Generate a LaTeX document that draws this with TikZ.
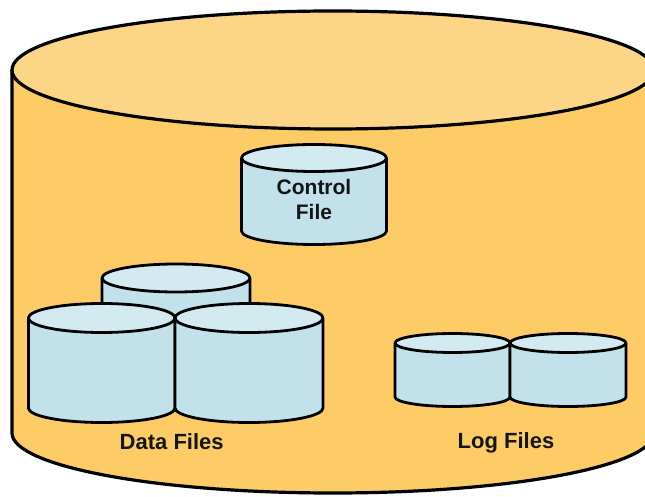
\documentclass[tikz,border=0pt]{standalone}
\usepackage{fontspec}
\setmainfont{Liberation Sans}
\definecolor{bigtop}{HTML}{FCD686}
\definecolor{bigside}{HTML}{FECC66}
\definecolor{drumbody}{HTML}{C3E1EA}
\definecolor{drumlid}{HTML}{D3EAF1}
\definecolor{ink}{HTML}{151515}
\newcommand\drum[5]{%
  \filldraw[drumstyle, fill=drumbody] ({#1-#2},#3) -- ({#1-#2},#4) arc[start angle=180, end angle=360, x radius=#2pt, y radius=#5pt] -- ({#1+#2},#3);
  \filldraw[drumstyle, fill=drumlid] (#1,#3) ellipse [x radius=#2pt, y radius=#5pt];
}
\begin{document}
\begin{tikzpicture}[x=1pt,y=1pt,
  bigline/.style={draw=black, line width=3.2pt, line join=round},
  drumstyle/.style={draw=black, line width=2.8pt, line join=round},
  label/.style={font=\bfseries\fontsize{22}{22}\selectfont, text=ink, inner sep=0pt, align=center}]
\useasboundingbox (0,0) rectangle (645,496);
\fill[white] (0,0) rectangle (645,496);
\clip (0,0) rectangle (645,496);
% big cylinder
\filldraw[bigline, fill=bigside] (12,426) -- (12,63) arc[start angle=180, end angle=360, x radius=321pt, y radius=60pt] -- (654,426);
\filldraw[bigline, fill=bigtop] (333,426) ellipse [x radius=321pt, y radius=59pt];
% control file
\drum{314}{72.5}{338}{265}{13.5}
\node[label, font=\bfseries\fontsize{21}{24.5}\selectfont] (ctl) at (314,296.5) {Control\\File};
% data files
\drum{176}{74}{218}{160}{14}
\drum{101.7}{73.3}{178}{88}{14.5}
\drum{249}{74}{178}{88}{14.5}
\node[label] (data) at (171.7,54) {Data Files};
% log files
\drum{452.5}{57.5}{153}{99}{9.5}
\drum{568}{58}{153}{99}{9.5}
\node[label] (log) at (506,53) {Log Files};
\end{tikzpicture}
\end{document}
